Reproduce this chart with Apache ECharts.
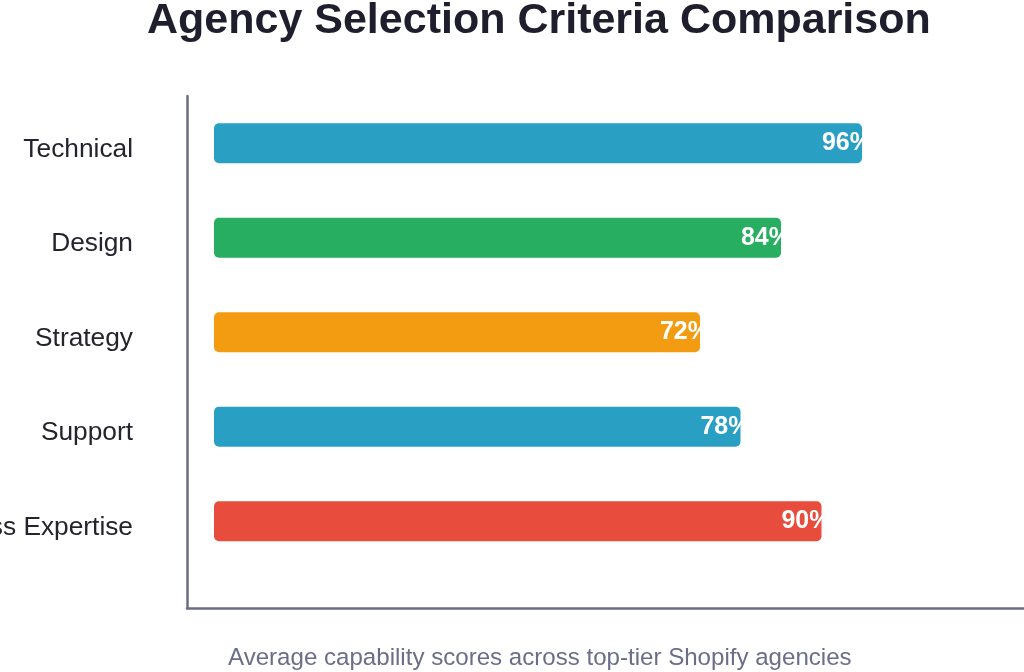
<!DOCTYPE html>
<html>
<head>
<meta charset="utf-8">
<script src="https://cdn.jsdelivr.net/npm/echarts@6/dist/echarts.min.js"></script>
<style>
    html, body { margin: 0; padding: 0; background: #fff; }
    #chart { width: 1024px; height: 672px; }
</style>
</head>
<body>
<div id="chart"></div>
<script>
let categories = ['Technical', 'Design', 'Strategy', 'Support', 'Business Expertise'];
let scores = [96, 84, 72, 78, 90];
let barColors = ['#2a9fc4', '#27ae60', '#f39c12', '#2a9fc4', '#e74c3c'];

function renderChart() {
    let chart = echarts.init(document.getElementById('chart'));
    let options = {
        backgroundColor: '#fff',
        title: [
            {
                text: 'Agency Selection Criteria Comparison',
                left: 142,
                top: -5,
                textStyle: {
                    fontFamily: 'Liberation Sans',
                    fontSize: 43,
                    fontWeight: 'bold',
                    color: '#1e1e2d'
                }
            },
            {
                text: 'Average capability scores across top-tier Shopify agencies',
                left: 223,
                top: 641,
                textStyle: {
                    fontFamily: 'Liberation Sans',
                    fontSize: 24.1,
                    fontWeight: 'normal',
                    color: '#6b6e8a'
                }
            }
        ],
        grid: [
            // bars
            { left: 214, right: 0, top: 96, height: 472.5, containLabel: false, outerBoundsMode: 'none' },
            // axis frame
            { left: 187, right: 0, top: 96, bottom: 64, containLabel: false, outerBoundsMode: 'none' }
        ],
        xAxis: [
            {
                gridIndex: 0,
                type: 'value',
                min: 0,
                max: 120,
                show: false
            },
            {
                gridIndex: 1,
                type: 'value',
                min: 0,
                max: 1,
                axisLine: { show: true, lineStyle: { color: '#6b6d85', width: 2.5 } },
                axisTick: { show: false },
                axisLabel: { show: false },
                splitLine: { show: false }
            }
        ],
        yAxis: [
            {
                gridIndex: 0,
                type: 'category',
                inverse: true,
                data: categories,
                axisLine: { show: false },
                axisTick: { show: false },
                axisLabel: {
                    margin: 81,
                    formatter: v => '{c|' + v + '}',
                    rich: {
                        c: {
                            padding: [12, 0, 0, 0],
                            fontFamily: 'Liberation Sans',
                            fontSize: 26.3,
                            color: '#24242e'
                        }
                    }
                }
            },
            {
                gridIndex: 1,
                type: 'value',
                min: 0,
                max: 1,
                axisLine: { show: true, lineStyle: { color: '#6b6d85', width: 2.5 } },
                axisTick: { show: false },
                axisLabel: { show: false },
                splitLine: { show: false }
            }
        ],
        series: [
            {
                type: 'bar',
                xAxisIndex: 0,
                yAxisIndex: 0,
                barWidth: 40,
                data: scores.map((v, i) => ({
                    value: v,
                    itemStyle: { color: barColors[i], borderRadius: 5 }
                })),
                label: {
                    show: true,
                    position: 'insideRight',
                    offset: [15, 0],
                    formatter: '{c}%',
                    fontFamily: 'Liberation Sans',
                    fontSize: 25,
                    fontWeight: 'bold',
                    color: '#fff'
                }
            }
        ]
    };
    chart.setOption(options);
}

renderChart();
</script>
</body>
</html>
